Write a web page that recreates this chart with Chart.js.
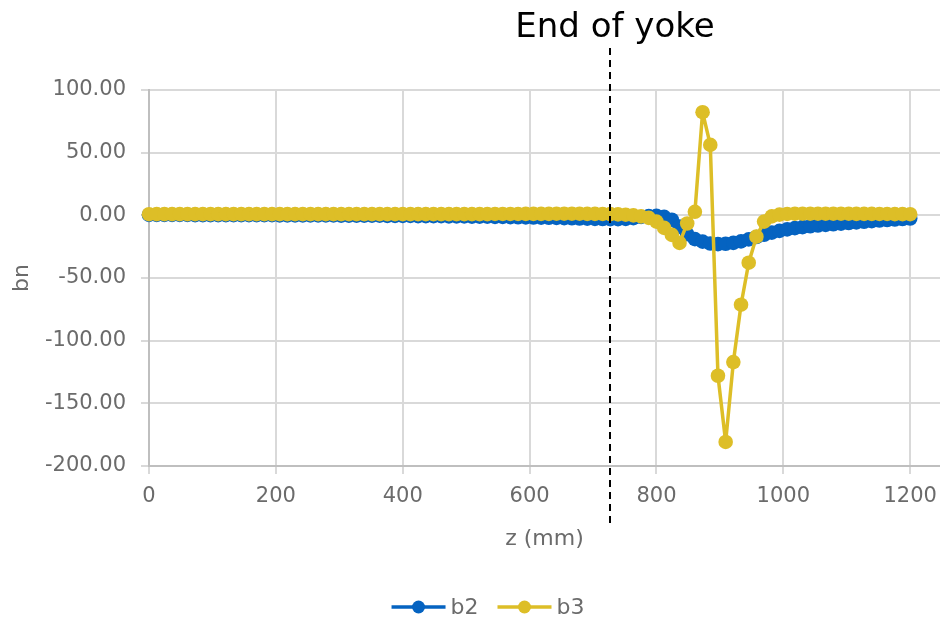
<!DOCTYPE html>
<html>
<head>
<meta charset="utf-8">
<script src="https://cdn.jsdelivr.net/npm/chart.js@4.4.1/dist/chart.umd.min.js"></script>
<style>
  html, body { margin: 0; padding: 0; background: #fff; }
  #wrap { width: 940px; height: 619px; }
</style>
</head>
<body>
<div id="wrap"><canvas id="bnChart" width="940" height="619"></canvas></div>
<script>
// z positions (mm) along the magnet
var zPos = [0, 12.12, 24.24, 36.36, 48.48, 60.61, 72.73, 84.85, 96.97, 109.09,
  121.21, 133.33, 145.45, 157.58, 169.70, 181.82, 193.94, 206.06, 218.18, 230.30,
  242.42, 254.55, 266.67, 278.79, 290.91, 303.03, 315.15, 327.27, 339.39, 351.52,
  363.64, 375.76, 387.88, 400, 412.12, 424.24, 436.36, 448.48, 460.61, 472.73,
  484.85, 496.97, 509.09, 521.21, 533.33, 545.45, 557.58, 569.70, 581.82, 593.94,
  606.06, 618.18, 630.30, 642.42, 654.55, 666.67, 678.79, 690.91, 703.03, 715.15,
  727.27, 739.39, 751.52, 763.64, 775.76, 787.88, 800, 812.12, 824.24, 836.36,
  848.48, 860.61, 872.73, 884.85, 896.97, 909.09, 921.21, 933.33, 945.45, 957.58,
  969.70, 981.82, 993.94, 1006.06, 1018.18, 1030.30, 1042.42, 1054.55, 1066.67, 1078.79,
  1090.91, 1103.03, 1115.15, 1127.27, 1139.39, 1151.52, 1163.64, 1175.76, 1187.88, 1200];

var b2 = [0.3, 0.3, 0.3, 0.3, 0.3, 0.3, 0.2, 0.2, 0.2, 0.2,
  0.2, 0.2, 0.1, 0.1, 0.1, 0.1, 0.1, 0.0, 0.0, 0.0,
  0.0, 0.0, -0.1, -0.1, -0.1, -0.2, -0.2, -0.2, -0.3, -0.3,
  -0.3, -0.4, -0.4, -0.5, -0.5, -0.6, -0.6, -0.7, -0.7, -0.8,
  -0.8, -0.9, -1.0, -1.0, -1.1, -1.2, -1.3, -1.4, -1.5, -1.6,
  -1.7, -1.8, -1.9, -2.0, -2.2, -2.3, -2.5, -2.6, -2.8, -2.9,
  -3.0, -3.0, -2.8, -2.2, -1.3, -0.6, -0.4, -1.2, -3.5, -9.0,
  -15.0, -19.0, -21.0, -22.5, -23.0, -22.7, -22.0, -20.8, -19.2, -17.3,
  -15.5, -13.8, -12.4, -11.2, -10.2, -9.4, -8.7, -8.1, -7.6, -7.1,
  -6.6, -6.1, -5.6, -5.1, -4.6, -4.1, -3.7, -3.3, -2.9, -2.5];

var b3 = [0.9, 1.0, 1.0, 1.0, 1.0, 1.0, 1.0, 1.0, 1.0, 1.0,
  1.0, 1.0, 1.0, 1.0, 1.0, 1.0, 1.0, 1.0, 1.0, 1.0,
  1.0, 1.0, 1.0, 1.0, 1.0, 1.0, 1.0, 1.0, 1.0, 1.0,
  1.0, 1.0, 1.0, 1.0, 1.0, 1.0, 1.0, 1.0, 1.0, 1.0,
  1.0, 1.0, 1.0, 1.0, 1.0, 1.1, 1.1, 1.1, 1.1, 1.2,
  1.2, 1.2, 1.2, 1.3, 1.3, 1.3, 1.3, 1.2, 1.2, 1.1,
  1.0, 0.8, 0.5, 0.0, -0.8, -2.0, -5.0, -10.0, -15.6, -22.0,
  -6.5, 2.8, 82.3, 56.2, -128.0, -180.8, -117.1, -71.3, -37.8, -17.0,
  -5.0, -0.8, 0.6, 1.1, 1.3, 1.3, 1.3, 1.3, 1.3, 1.3,
  1.3, 1.3, 1.2, 1.2, 1.2, 1.1, 1.1, 1.0, 1.0, 0.9];

var xTicks = [0, 200, 400, 600, 800, 1000, 1200];
var yTicks = [-200, -150, -100, -50, 0, 50, 100];
var yokeEnd = 727.27;   // z of the end of the yoke

var seriesNames = ['b2', 'b3'];
var seriesColors = ['#0563C1', '#DDBE27'];
var textGray = '#6b6b6b';

function toPoints(ys) {
    return zPos.map(function(z, i) { return { x: z, y: ys[i] }; });
}

Chart.defaults.font.family = "'DejaVu Sans', sans-serif";
Chart.defaults.color = textGray;

// dashed marker + label for the end of the yoke
var yokePlugin = {
    id: 'yokeLine',
    afterDatasetsDraw: function(chart) {
        var ctx = chart.ctx;
        var x = Math.round(chart.scales.x.getPixelForValue(yokeEnd));
        ctx.save();
        ctx.strokeStyle = '#000';
        ctx.lineWidth = 2;
        ctx.setLineDash([7, 5]);
        ctx.beginPath();
        ctx.moveTo(x, 48);
        ctx.lineTo(x, 528);
        ctx.stroke();
        ctx.setLineDash([]);
        ctx.fillStyle = '#000';
        ctx.font = "34px 'DejaVu Sans', sans-serif";
        ctx.textAlign = 'center';
        ctx.textBaseline = 'alphabetic';
        ctx.fillText('End of yoke', x + 5, 37);
        ctx.restore();
    }
};

// legend with line + marker swatches, as in the original
var legendPlugin = {
    id: 'lineLegend',
    afterDraw: function(chart) {
        var ctx = chart.ctx;
        var y = 607;
        var lineLen = 54, gap = 5, itemGap = 19;
        ctx.save();
        ctx.font = "22px 'DejaVu Sans', sans-serif";
        ctx.textBaseline = 'middle';
        ctx.textAlign = 'left';
        var total = 0;
        seriesNames.forEach(function(n, i) {
            total += lineLen + gap + ctx.measureText(n).width + (i > 0 ? itemGap : 0);
        });
        var x = 488 - total / 2;
        seriesNames.forEach(function(n, i) {
            var c = seriesColors[i];
            ctx.strokeStyle = c;
            ctx.lineWidth = 3.5;
            ctx.beginPath();
            ctx.moveTo(x, y);
            ctx.lineTo(x + lineLen, y);
            ctx.stroke();
            ctx.fillStyle = c;
            ctx.beginPath();
            ctx.arc(x + lineLen / 2, y, 6.5, 0, Math.PI * 2);
            ctx.fill();
            ctx.fillStyle = textGray;
            ctx.fillText(n, x + lineLen + gap, y + 1);
            x += lineLen + gap + ctx.measureText(n).width + itemGap;
        });
        ctx.restore();
    }
};

var ctx = document.getElementById('bnChart').getContext('2d');
var bnChart = new Chart(ctx, {
    type: 'line',
    data: {
        datasets: [
            {
                label: seriesNames[0],
                data: toPoints(b2),
                borderColor: seriesColors[0],
                backgroundColor: seriesColors[0],
                borderWidth: 3.5,
                borderJoinStyle: 'round',
                pointRadius: 7.3,
                pointBorderWidth: 0,
                pointBackgroundColor: seriesColors[0],
                clip: false,
                order: 2
            },
            {
                label: seriesNames[1],
                data: toPoints(b3),
                borderColor: seriesColors[1],
                backgroundColor: seriesColors[1],
                borderWidth: 3.5,
                borderJoinStyle: 'round',
                pointRadius: 7.3,
                pointBorderWidth: 0,
                pointBackgroundColor: seriesColors[1],
                clip: false,
                order: 1
            }
        ]
    },
    options: {
        responsive: false,
        animation: false,
        layout: {
            autoPadding: false,
            padding: { top: 90, left: 0, right: 0, bottom: 67 }
        },
        plugins: {
            legend: { display: false },
            tooltip: { enabled: false }
        },
        scales: {
            x: {
                type: 'linear',
                min: 0,
                max: 1247,
                afterBuildTicks: function(axis) {
                    axis.ticks = xTicks.map(function(v) { return { value: v }; });
                },
                afterFit: function(axis) {
                    axis.height = 86;
                    axis.paddingLeft = 0;
                    axis.paddingRight = 0;
                },
                ticks: {
                    autoSkip: false,
                    maxRotation: 0,
                    padding: 10,
                    font: { size: 21 },
                    color: textGray,
                    callback: function(v) { return String(v); }
                },
                grid: { color: '#d9d9d9', lineWidth: 2, tickLength: 8 },
                border: { color: '#bfbfbf', width: 2 },
                title: {
                    display: true,
                    text: 'z (mm)',
                    font: { size: 22 },
                    color: textGray,
                    padding: { top: 0, bottom: 0 }
                }
            },
            y: {
                min: -200,
                max: 100,
                afterBuildTicks: function(axis) {
                    axis.ticks = yTicks.map(function(v) { return { value: v }; });
                },
                afterFit: function(axis) {
                    axis.width = 149;
                    axis.paddingTop = 0;
                    axis.paddingBottom = 0;
                },
                ticks: {
                    padding: 15,
                    font: { size: 21 },
                    color: textGray,
                    callback: function(v) { return v.toFixed(2); }
                },
                grid: { color: '#d9d9d9', lineWidth: 2, tickLength: 8 },
                border: { color: '#bfbfbf', width: 2 },
                title: {
                    display: true,
                    text: 'bn',
                    font: { size: 22 },
                    color: textGray,
                    padding: { top: 9, bottom: 0 }
                }
            }
        }
    },
    plugins: [yokePlugin, legendPlugin]
});
</script>
</body>
</html>
